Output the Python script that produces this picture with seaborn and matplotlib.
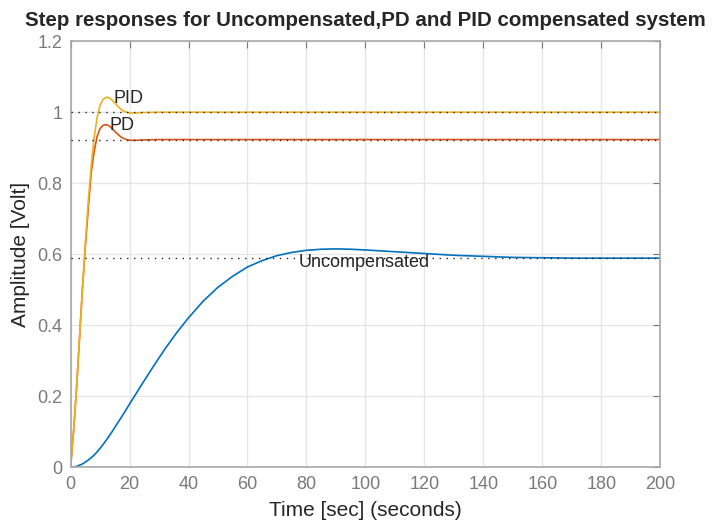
import numpy as np
import pandas as pd
import matplotlib
matplotlib.use("Agg")
import matplotlib.pyplot as plt
import seaborn as sns

# uncompensated step response
t_unc = [0, 2, 4, 6, 8, 10, 12, 14, 16, 18, 20, 24, 28, 32, 36, 40, 45, 50, 55,
         60, 65, 70, 75, 80, 85, 90, 95, 100, 110, 120, 130, 140, 150, 160, 170,
         180, 190, 200]
y_unc = [0, 0.002, 0.009, 0.020, 0.034, 0.053, 0.075, 0.099, 0.125, 0.151,
         0.178, 0.231, 0.283, 0.333, 0.379, 0.421, 0.468, 0.507, 0.538, 0.564,
         0.582, 0.596, 0.605, 0.611, 0.614, 0.615, 0.614, 0.612, 0.607, 0.602,
         0.597, 0.594, 0.591, 0.590, 0.589, 0.589, 0.589, 0.589]

# compensated responses (PD / PID)
t_fast = [0, 1, 2, 3, 4, 5, 6, 7, 8, 9, 10, 11, 12, 13, 14, 15, 16, 17, 18,
          19, 20, 22, 25, 30, 40, 60, 100, 150, 200]
y_pid = [0, 0.10, 0.22, 0.36, 0.50, 0.63, 0.75, 0.85, 0.93, 0.985, 1.02, 1.036,
         1.042, 1.041, 1.035, 1.026, 1.017, 1.009, 1.003, 1.0, 0.998, 0.998,
         0.999, 1.0, 1.0, 1.0, 1.0, 1.0, 1.0]
y_pd = [0, 0.10, 0.22, 0.36, 0.50, 0.62, 0.73, 0.83, 0.89, 0.932, 0.954, 0.963,
        0.965, 0.962, 0.955, 0.946, 0.938, 0.931, 0.926, 0.923, 0.921, 0.921,
        0.922, 0.923, 0.923, 0.923, 0.923, 0.923, 0.923]

final_values = [0.59, 0.923, 1.0]
names = ["Uncompensated", "PD", "PID"]
colors = ["#0072BD", "#D95319", "#EDB120"]

x_ticks = [0, 20, 40, 60, 80, 100, 120, 140, 160, 180, 200]
y_ticks = [0, 0.2, 0.4, 0.6, 0.8, 1.0, 1.2]
y_tick_labels = ["0", "0.2", "0.4", "0.6", "0.8", "1", "1.2"]

df = pd.concat([
    pd.DataFrame({"Time": t_unc, "Amplitude": y_unc, "System": "Uncompensated"}),
    pd.DataFrame({"Time": t_fast, "Amplitude": y_pd, "System": "PD"}),
    pd.DataFrame({"Time": t_fast, "Amplitude": y_pid, "System": "PID"}),
], ignore_index=True)

sns.set_style("white")
plt.rcParams["font.family"] = ["Liberation Sans", "DejaVu Sans"]

fig, ax = plt.subplots(figsize=(7.13, 5.22), dpi=100)
fig.subplots_adjust(left=0.099, right=0.926, bottom=0.105, top=0.921)

sns.lineplot(data=df, x="Time", y="Amplitude", hue="System", hue_order=names,
             palette=colors, estimator=None, sort=False, legend=False,
             linewidth=1.2, ax=ax)

for v in final_values:
    ax.axhline(v, color="#222222", linestyle=(0, (1, 4)), linewidth=1.0, zorder=3)

ax.text(14.6, 1.04, "PID", fontsize=13, va="center", ha="left", color="#262626")
ax.text(13.2, 0.963, "PD", fontsize=13, va="center", ha="left", color="#262626")
ax.text(77.5, 0.577, "Uncompensated", fontsize=13, va="center", ha="left", color="#262626")

ax.set_xlim(0, 200)
ax.set_ylim(0, 1.2)
ax.set_xticks(x_ticks)
ax.set_yticks(y_ticks)
ax.set_yticklabels(y_tick_labels)
ax.grid(True, color="#e6e6e6", linewidth=1.0)
ax.set_axisbelow(True)
ax.tick_params(direction="in", top=True, right=True, length=5, width=0.8,
               color="#777777", labelcolor="#7a7a7a", labelsize=13, pad=6)
for s in ax.spines.values():
    s.set_color("#a8a8a8")
    s.set_linewidth(1.2)

ax.set_xlabel("Time [sec] (seconds)", fontsize=15, color="#262626")
ax.set_ylabel("Amplitude [Volt]", fontsize=15, color="#262626")
ax.xaxis.set_label_coords(0.5, -0.08)
ax.yaxis.set_label_coords(-0.068, 0.5)
ax.set_title("Step responses for Uncompensated,PD and PID compensated system",
             fontsize=14.8, fontweight="bold", pad=11)

fig.savefig("out.png", dpi=100)
